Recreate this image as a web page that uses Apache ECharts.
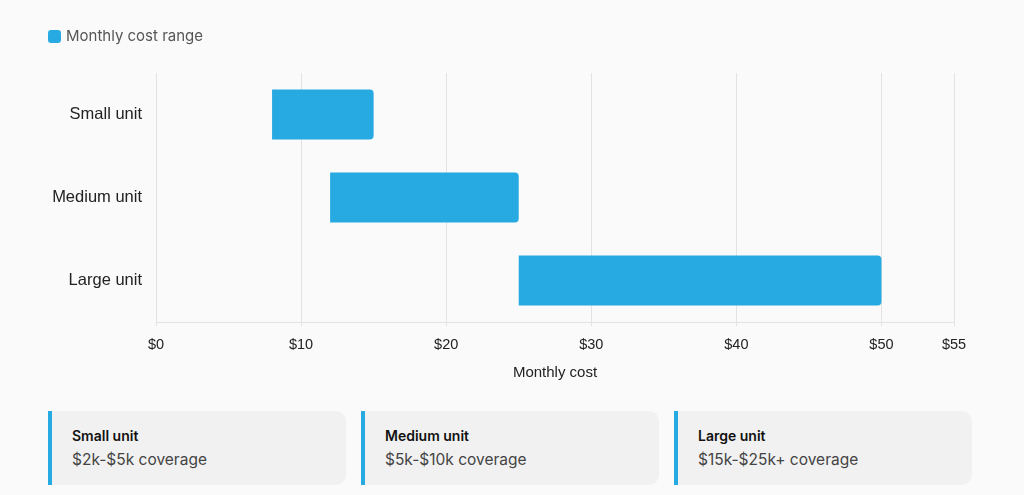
<!DOCTYPE html>
<html>
<head>
<meta charset="UTF-8">
<title>Monthly cost range</title>
<script src="https://cdn.jsdelivr.net/npm/echarts@6/dist/echarts.min.js"></script>
<style>
  html, body { margin:0; padding:0; background:#fafafa; }
  #chart { width:1024px; height:400px; }
  .cards { position:absolute; top:411px; left:48px; }
  .card {
    position:absolute; top:0; width:298px; height:74px;
    background:#f1f1f1; border-left:4px solid #27a9e1;
    border-radius:0 10px 10px 0; box-sizing:border-box;
    font-family:Inter, "Noto Sans", sans-serif;
  }
  .card b { position:absolute; left:20px; top:16px; font-size:14px; font-weight:600; color:#111; }
  .card span { position:absolute; left:20px; top:39px; font-size:15.5px; color:#444; }
</style>
</head>
<body>
<div id="chart"></div>
<div class="cards" id="cards"></div>
<script>
var units = ['Small unit', 'Medium unit', 'Large unit'];
var costLow = [8, 12, 25];
var costHigh = [15, 25, 50];
var coverage = ['$2k-$5k coverage', '$5k-$10k coverage', '$15k-$25k+ coverage'];
var cardLeft = [0, 313, 626];

var chart = echarts.init(document.getElementById('chart'));
var option = {
  backgroundColor: '#fafafa',
  legend: {
    left: 48, top: 29, padding: 0,
    itemWidth: 13, itemHeight: 13, itemGap: 6,
    data: ['Monthly cost range'],
    textStyle: { color: '#555', fontSize: 15, fontFamily: 'Inter' }
  },
  grid: { left: 156, right: 70, top: 73, bottom: 78 },
  xAxis: {
    type: 'value', min: 0, max: 55, interval: 10,
    name: 'Monthly cost', nameLocation: 'middle', nameGap: 43,
    nameTextStyle: { color: '#222', fontSize: 15, fontFamily: 'Liberation Sans' },
    axisLine: { show: true, lineStyle: { color: '#e3e3e3' } },
    axisTick: { show: true, length: 4, lineStyle: { color: '#e3e3e3' } },
    axisLabel: { color: '#222', fontSize: 14.5, margin: 15, fontFamily: 'Liberation Sans',
      formatter: function (v) { return '$' + v; } },
    splitLine: { show: true, lineStyle: { color: '#e3e3e3' } }
  },
  yAxis: {
    type: 'category', data: units, inverse: true,
    axisLine: { show: false }, axisTick: { show: false },
    axisLabel: { color: '#222', fontSize: 16.5, margin: 14, padding: [3, 0, 0, 0], fontFamily: 'Liberation Sans' }
  },
  series: [{
    name: 'base', type: 'bar', stack: 'range', barWidth: 50,
    itemStyle: { color: 'transparent' }, silent: true,
    data: costLow
  }, {
    name: 'Monthly cost range', type: 'bar', stack: 'range', barWidth: 50,
    itemStyle: { color: '#27a9e1', borderRadius: [0, 4, 4, 0] },
    data: costHigh.map(function (h, i) { return h - costLow[i]; })
  }]
};
chart.setOption(option);

var html = '';
for (var i = 0; i < units.length; i++) {
  html += '<div class="card" style="left:' + cardLeft[i] + 'px"><b>' + units[i] +
    '</b><span>' + coverage[i] + '</span></div>';
}
document.getElementById('cards').innerHTML = html;
</script>
</body>
</html>
